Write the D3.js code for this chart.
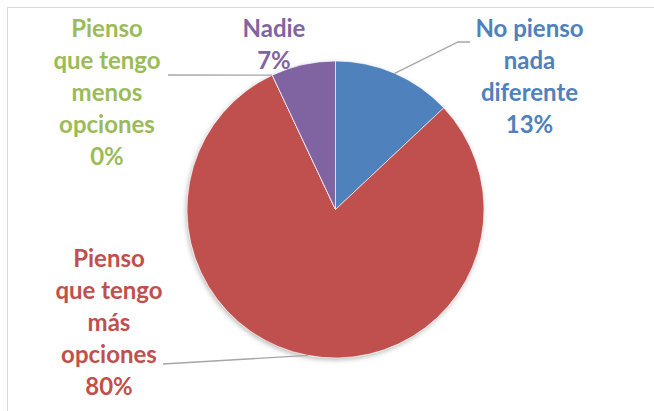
<!DOCTYPE html>
<html><head><meta charset="utf-8">
<script src="https://cdn.jsdelivr.net/npm/d3@7"></script>
<style>html,body{margin:0;padding:0;background:#fff;}svg{display:block;}</style>
</head><body>
<svg id="c" width="654" height="411"></svg>
<script>
const categories = ["No pienso nada diferente", "Pienso que tengo más opciones", "Pienso que tengo menos opciones", "Nadie"];
const values = [13, 80, 0, 7];
const labelLines = [["No pienso","nada","diferente","13%"],["Pienso","que tengo","más","opciones","80%"],["Pienso","que tengo","menos","opciones","0%"],["Nadie","7%"]];
const colors = ["#4F81BD", "#C0504D", "#9BBB59", "#8064A2"];

const svg = d3.select("#c");
const cx = 335.5, cy = 209.5, r = 148.5;

svg.append("rect").attr("x",7.5).attr("y",7.5).attr("width",700).attr("height",450)
  .attr("fill","#fff").attr("stroke","#d9d9d9").attr("stroke-width",1);

const defs = svg.append("defs");
const f = defs.append("filter").attr("id","sh").attr("x","-20%").attr("y","-20%").attr("width","140%").attr("height","140%");
f.append("feDropShadow").attr("dx",-1).attr("dy",2).attr("stdDeviation",2.5).attr("flood-color","#000").attr("flood-opacity",0.28);

const pie = d3.pie().sort(null).value(d=>d);
const arcs = pie(values);
const arc = d3.arc().innerRadius(0).outerRadius(r);

const g = svg.append("g").attr("transform",`translate(${cx},${cy})`);
g.append("circle").attr("r",r).attr("fill","#fff").attr("filter","url(#sh)");
g.selectAll("path").data(arcs).join("path")
  .attr("d",arc).attr("fill",(d,i)=>colors[i])
  .attr("stroke","#fff").attr("stroke-width",0.6);

// label placement (centre x, first baseline)
const labelPos = [[529.5,37],[109,266.5],[107,37],[274,37]];
const lineH = 32;
labelLines.forEach((lines,i)=>{
  const t = svg.append("text").attr("text-anchor","middle")
    .attr("font-family","Lato, 'Open Sans', sans-serif").attr("font-weight","bold")
    .attr("font-size",24).attr("fill",colors[i]);
  lines.forEach((s,j)=>{
    t.append("tspan").attr("x",labelPos[i][0]).attr("y",labelPos[i][1]+j*lineH).text(s);
  });
});

// leader lines: from a point on the slice edge to the label
function edgePt(angle){ return [cx + r*Math.sin(angle), cy - r*Math.cos(angle)]; }
const leaders = [
  {a: 0.41, pts:[[458,42],[470,42]]},
  {a: Math.PI + 0.186, pts:[[163,364]]},
  {a: arcs[2].startAngle, pts:[[168,75]]}
];
leaders.forEach(l=>{
  const pts = [edgePt(l.a)].concat(l.pts);
  svg.append("path").attr("d", d3.line()(pts)).attr("fill","none")
    .attr("stroke","#a6a6a6").attr("stroke-width",1.3);
});
</script>
</body></html>
